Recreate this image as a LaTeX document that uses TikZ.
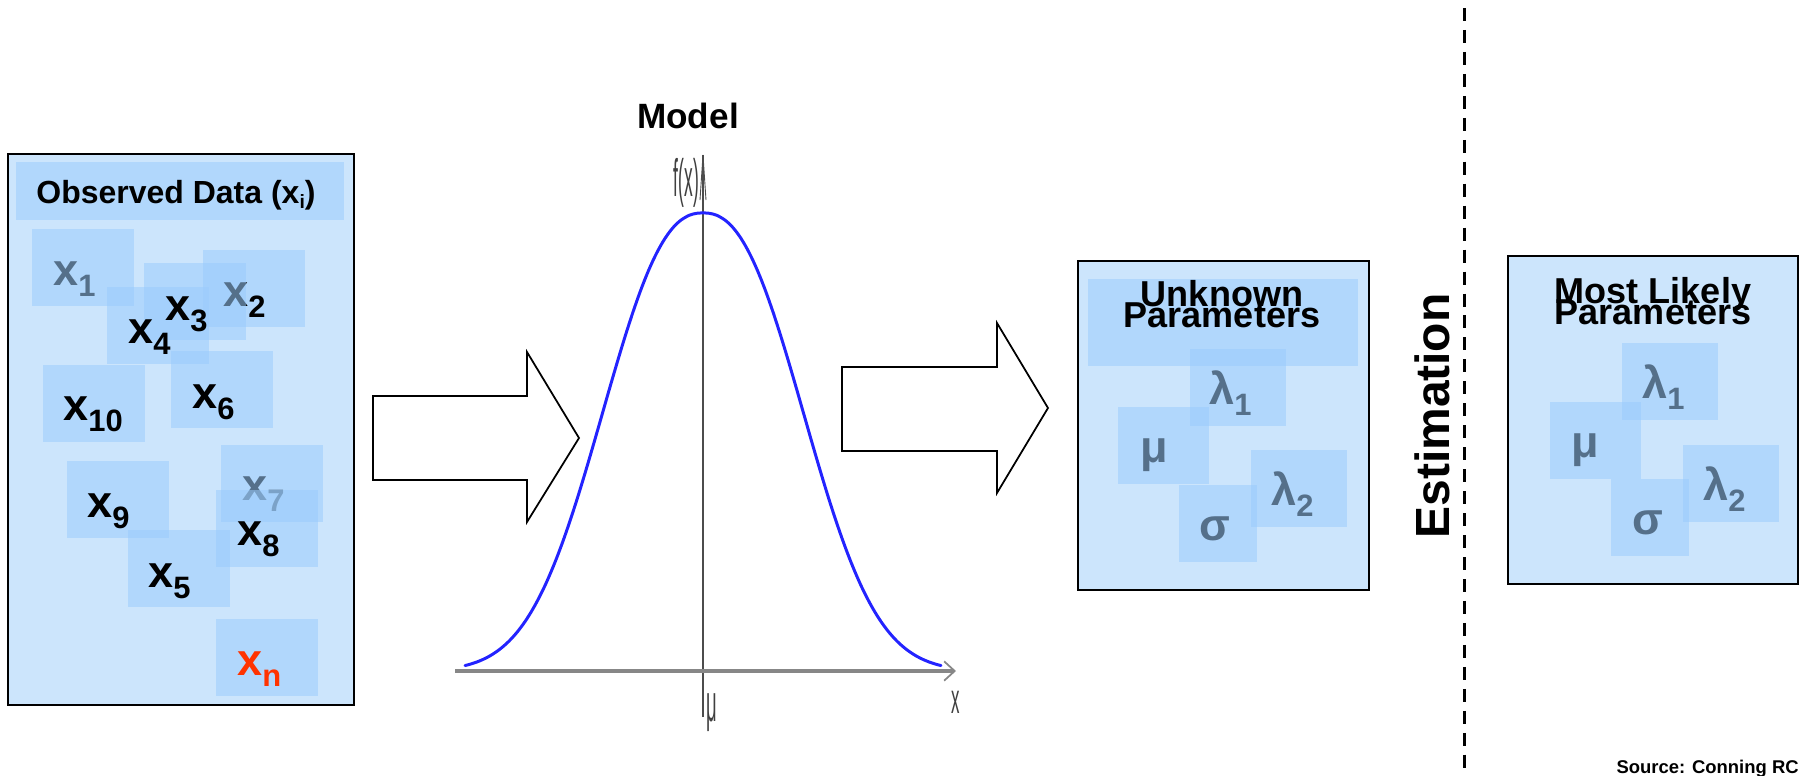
\documentclass[tikz,border=0pt]{standalone}
\usepackage{fontspec}
\setmainfont{Liberation Sans}
\usetikzlibrary{arrows.meta}
\definecolor{panelbg}{RGB}{204,229,252}
\definecolor{chipblue}{RGB}{155,204,252}
\definecolor{curveblue}{RGB}{35,35,255}
\definecolor{xred}{RGB}{255,51,0}
\definecolor{axisgray}{RGB}{135,135,135}
\newcommand\xsub[2]{#1\raisebox{-6.8pt}{\fontsize{17.6pt}{18pt}\selectfont #2}}
\tikzset{
  panel/.style={draw=black, line width=1.1pt, fill=panelbg},
  chip/.style={fill=chipblue, fill opacity=0.55, draw=none, inner sep=0pt, outer sep=0pt, anchor=north west, minimum height=1.54cm},
  lab/.style={font=\fontsize{25.6pt}{26pt}\selectfont\bfseries, inner sep=0pt, anchor=base west},
  ttl/.style={font=\fontsize{20.5pt}{21pt}\selectfont\bfseries, inner sep=0pt, anchor=base},
  blockarrow/.style={draw=black, line width=1pt, fill=white, line join=miter},
  axlab/.style={font=\fontsize{30pt}{30pt}\selectfont, text=black!75, inner sep=0pt},
}
\begin{document}
\begin{tikzpicture}[x=0.02cm, y=-0.02cm]
\useasboundingbox (0,0) rectangle (1800,775);

% ---------- Observed data panel ----------
\node[panel, anchor=north west, minimum width=6.92cm, minimum height=11.02cm, inner sep=0pt] (obs) at (7,153) {};
\node[chip, minimum width=6.56cm, minimum height=1.16cm] (obsband) at (16,162) {};
\node[inner sep=0pt, anchor=base, font=\fontsize{18.2pt}{19pt}\selectfont\bfseries] (obstitle) at (176,203)
  {Observed Data (x\raisebox{-3pt}{\fontsize{11pt}{12pt}\selectfont i})};

% texts that lie beneath chips
\node[lab] (t1) at (53,285) {\xsub{x}{1}};
\node[lab] (t7) at (242,500) {\xsub{x}{7}};
\node[chip, minimum width=2.04cm] (b2) at (203,250) {};
\node[lab] (t2) at (223,306) {\xsub{x}{2}};

\node[chip, minimum width=2.04cm] (b1) at (32,229) {};
\node[chip, minimum width=2.04cm] (b3) at (144,263) {};
\node[chip, minimum width=2.04cm] (b4) at (107,287) {};
\node[chip, minimum width=2.04cm] (b10) at (43,365) {};
\node[chip, minimum width=2.04cm] (b6) at (171,351) {};
\node[chip, minimum width=2.04cm] (b7) at (221,445) {};
\node[chip, minimum width=2.04cm] (b9) at (67,461) {};
\node[chip, minimum width=2.04cm] (b8) at (216,490) {};
\node[chip, minimum width=2.04cm] (b5) at (128,530) {};
\node[chip, minimum width=2.04cm] (bn) at (216,619) {};

\node[lab] (t3) at (165,320) {\xsub{x}{3}};
\node[lab] (t4) at (128,343) {\xsub{x}{4}};
\node[lab] (t10) at (63,420) {\xsub{x}{10}};
\node[lab] (t6) at (192,408) {\xsub{x}{6}};
\node[lab] (t9) at (87,517) {\xsub{x}{9}};
\node[lab] (t8) at (237,545) {\xsub{x}{8}};
\node[lab] (t5) at (148,587) {\xsub{x}{5}};
\node[lab, text=xred] (tn) at (237,675) {\xsub{x}{n}};

% ---------- block arrows ----------
\draw[blockarrow] (373,396) -- (527,396) -- (527,352) -- (579,438) -- (527,522) -- (527,480) -- (373,480) -- cycle;
\draw[blockarrow] (842,367) -- (997,367) -- (997,323) -- (1048,408) -- (997,493) -- (997,451) -- (842,451) -- cycle;

% ---------- model ----------
\node[ttl, font=\fontsize{20pt}{21pt}\selectfont\bfseries] (model) at (688,128) {Model};
\coordinate (vbot) at (703,717);
\coordinate (vtop) at (703,155);
\coordinate (hl) at (455,671);
\coordinate (hr) at (956,671);
\draw[black!70, line width=0.6pt] (vbot) -- (vtop);
\draw[black!70, line width=0.5pt] (700,200) -- (vtop) -- (706,200);
\draw[axisgray, line width=1.8pt, -{Straight Barb[length=6pt,width=11pt,line width=1pt]}] (hl) -- (hr);
\draw[curveblue, line width=1.7pt, line cap=round]
  plot[domain=-238:238, samples=120, smooth] ({703+\x}, {671-458*exp(-((abs(\x)+0.01)/127)^2.37)});
\node[axlab, xscale=0.33, anchor=base east] (fx) at (699,196) {f(x)};
\node[axlab, xscale=0.35, anchor=base west] (mulab) at (706,721) {μ};
\node[axlab, font=\fontsize{24pt}{24pt}\selectfont, xscale=0.4, anchor=base west] (xlab) at (951,713) {x};

% ---------- unknown parameters ----------
\node[panel, anchor=north west, minimum width=5.82cm, minimum height=6.58cm, inner sep=0pt] (unk) at (1077,260) {};
\node[lab] (ul1) at (1209,404) {\xsub{λ}{1}};
\node[lab] (umu) at (1140,462) {μ};
\node[lab] (usig) at (1199,540) {σ};
\node[lab] (ul2) at (1271,505) {\xsub{λ}{2}};
\node[chip, minimum width=5.40cm, minimum height=1.74cm] (unkband) at (1088,279) {};
\node[chip, minimum width=1.92cm] (ubl1) at (1190,349) {};
\node[chip, minimum width=1.82cm] (ubmu) at (1118,407) {};
\node[chip, minimum width=1.56cm] (ubsig) at (1179,485) {};
\node[chip, minimum width=1.92cm] (ubl2) at (1251,450) {};
\node[ttl] (ut1) at (1222,306) {Unknown};
\node[ttl] (ut2) at (1222,327) {Parameters};

% ---------- estimation divider ----------
\coordinate (dtop) at (1464,8);
\coordinate (dbot) at (1464,772);
\draw[black, line width=1.7pt, dash pattern=on 7.4pt off 5.1pt] (dtop) -- (dbot);
\node[rotate=90, inner sep=0pt, font=\fontsize{27.3pt}{28pt}\selectfont\bfseries] (est) at (1432,416) {Estimation};

% ---------- most likely parameters ----------
\node[panel, anchor=north west, minimum width=5.80cm, minimum height=6.56cm, inner sep=0pt] (mlk) at (1507,255) {};
\node[lab] (ml1) at (1642,398) {\xsub{λ}{1}};
\node[lab] (mmu) at (1571,457) {μ};
\node[lab] (msig) at (1632,534) {σ};
\node[lab] (ml2) at (1703,500) {\xsub{λ}{2}};
\node[chip, minimum width=1.92cm] (mbl1) at (1622,343) {};
\node[chip, minimum width=1.82cm] (mbmu) at (1550,402) {};
\node[chip, minimum width=1.56cm] (mbsig) at (1611,479) {};
\node[chip, minimum width=1.92cm] (mbl2) at (1683,445) {};
\node[ttl] (mt1) at (1653,303) {Most Likely};
\node[ttl] (mt2) at (1653,324) {Parameters};

% ---------- source ----------
\node[inner sep=0pt, anchor=base east, font=\fontsize{10.5pt}{12pt}\selectfont\bfseries] (src) at (1799,773) {Source: Conning RC};
\end{tikzpicture}
\end{document}
